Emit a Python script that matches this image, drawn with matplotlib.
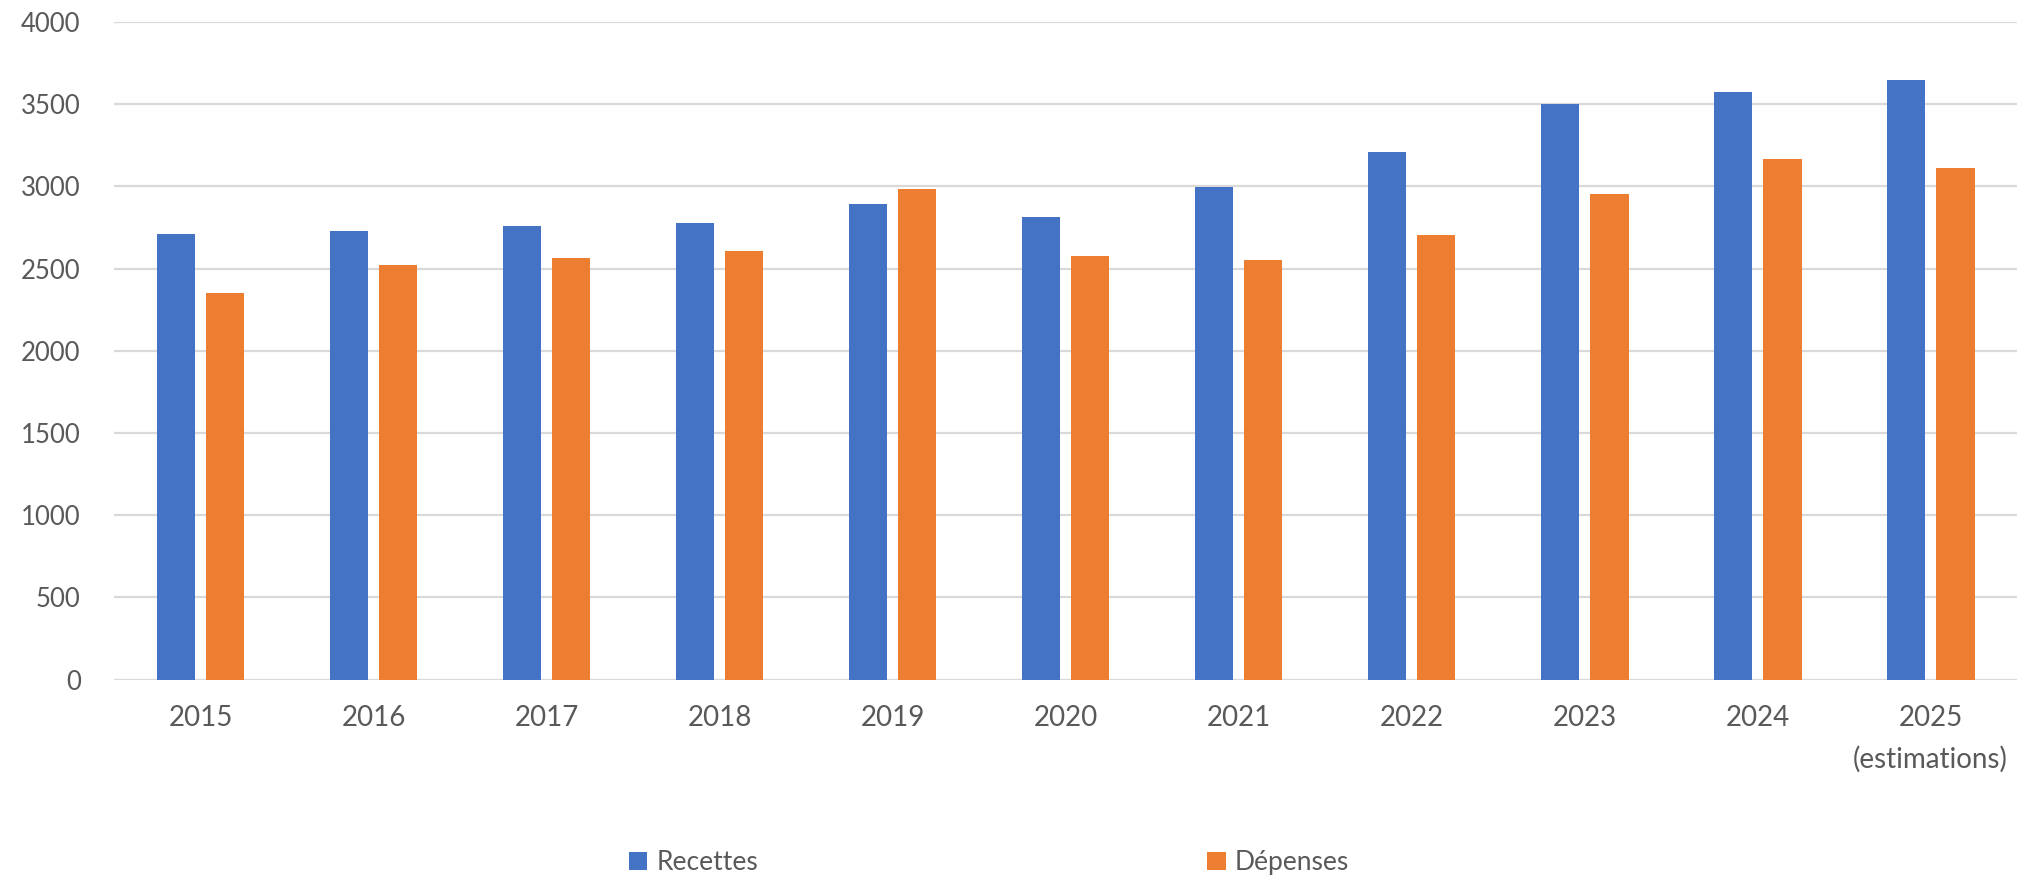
import matplotlib
matplotlib.use("Agg")
import matplotlib.pyplot as plt
import numpy as np

plt.rcParams['font.family'] = ['Lato', 'DejaVu Sans']

YEARS = ["2015", "2016", "2017", "2018", "2019", "2020", "2021", "2022", "2023", "2024", "2025\n(estimations)"]
RECETTES = [2710, 2729, 2762, 2775, 2892, 2816, 2998, 3207, 3500, 3576, 3650]
DEPENSES = [2352, 2520, 2563, 2604, 2984, 2574, 2550, 2702, 2952, 3169, 3109]

BLUE = "#4472C4"
ORANGE = "#ED7D31"
TEXT = "#595959"
GRID = "#D9D9D9"


def main():
    fig = plt.figure(figsize=(20.35, 8.85), dpi=100)
    ax = fig.add_axes([0.056, 0.2322, 0.9352, 0.7429])

    x = np.arange(len(YEARS))
    w = 0.222
    ax.bar(x - 0.143, RECETTES, w, color=BLUE, label="Recettes", zorder=3)
    ax.bar(x + 0.143, DEPENSES, w, color=ORANGE, label="Dépenses", zorder=3)

    ax.set_xlim(-0.5, len(YEARS) - 0.5)
    ax.set_ylim(0, 4000)
    ax.set_yticks(range(0, 4001, 500))
    ax.set_xticks(x)
    ax.set_xticklabels(YEARS, linespacing=1.7)

    # grille horizontale grise, pas de cadre
    ax.grid(axis="y", color=GRID, linewidth=1.6, zorder=0)
    for s in ax.spines.values():
        s.set_visible(False)
    ax.tick_params(axis="both", length=0, labelcolor=TEXT)
    ax.tick_params(axis="y", pad=24, labelsize=18.5)
    ax.tick_params(axis="x", pad=18, labelsize=20)

    fig.legend(loc="center", bbox_to_anchor=(0.486, 0.025), ncol=2, frameon=False,
               fontsize=19, labelcolor=TEXT, handlelength=0.7, handleheight=0.7,
               handletextpad=0.35, columnspacing=17)

    fig.savefig("out.png", dpi=100)


main()
